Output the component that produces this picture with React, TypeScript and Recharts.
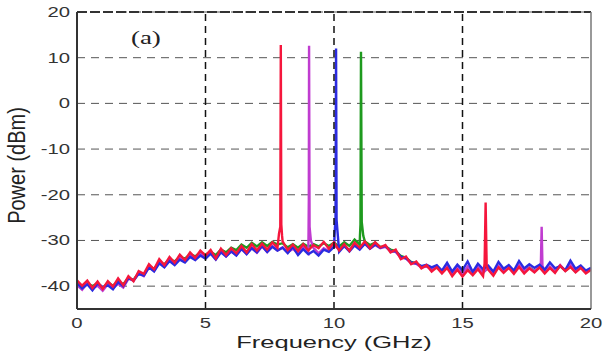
import React from 'react'
import {
  LineChart, Line, XAxis, YAxis, CartesianGrid, ReferenceLine, ReferenceDot, Label
} from 'recharts'

// frequency grid of the traces, 0..20 GHz every 0.2 GHz
const freqs = Array.from({ length: 101 }, (_, i) => Math.round(i * 2) / 10)

const xTicks = [0, 5, 10, 15, 20]
const yTicks = [-40, -30, -20, -10, 0, 10, 20]
const vGrid = [5, 10, 15]

// noise floor of each trace (dBm)
const redFloor = [
  -38.7, -39.9, -38.8, -40.4, -39.0, -40.6, -38.9, -40.1, -38.3, -39.8,
  -37.8, -38.9, -36.7, -37.3, -35.2, -36.3, -34.1, -35.4, -33.6, -34.9,
  -33.1, -34.3, -32.6, -33.8, -32.2, -33.3, -32.1, -33.9, -31.8, -33.2,
  -31.7, -32.8, -31.2, -32.6, -30.8, -32.2, -30.7, -32.0, -30.4, -31.6,
  -30.2, -32.1, -30.9, -32.3, -30.8, -32.2, -31.0, -31.7, -30.3, -31.8,
  -30.4, -32.2, -30.8, -32.3, -30.5, -31.6, -30.2, -31.7, -30.4, -31.5,
  -31.0, -32.6, -32.0, -34.1, -33.5, -35.2, -34.6, -36.1, -35.4, -36.8,
  -35.9, -37.2, -36.0, -37.8, -36.4, -37.9, -36.5, -37.6, -36.3, -37.8,
  -36.4, -37.7, -35.9, -37.1, -36.0, -37.3, -35.8, -37.2, -36.1, -37.0,
  -35.9, -37.2, -36.0, -37.1, -35.5, -36.7, -35.8, -37.0, -36.0, -37.2,
  -36.4,
]
const blueFloor = [
  -39.3, -40.5, -39.6, -40.9, -39.4, -40.2, -39.8, -40.7, -39.1, -40.0,
  -38.2, -38.8, -37.3, -37.7, -35.9, -36.8, -35.0, -35.9, -34.5, -35.4,
  -34.2, -34.8, -33.6, -34.3, -33.3, -34.0, -32.9, -34.2, -32.6, -33.5,
  -32.4, -33.3, -31.8, -33.0, -31.7, -32.6, -31.2, -32.5, -31.4, -32.2,
  -31.6, -32.8, -31.4, -33.2, -31.9, -33.0, -32.3, -33.3, -32.0, -32.5,
  -31.4, -32.5, -31.2, -32.4, -31.1, -32.0, -30.7, -31.8, -30.9, -31.6,
  -31.2, -32.4, -32.3, -33.6, -33.9, -34.8, -35.0, -35.6, -35.3, -35.9,
  -35.4, -36.6, -34.9, -36.8, -35.3, -36.5, -34.6, -36.9, -35.1, -36.3,
  -35.5, -36.8, -34.7, -36.2, -35.4, -36.6, -34.5, -36.1, -35.2, -36.0,
  -35.3, -36.4, -34.8, -36.1, -35.6, -36.5, -34.4, -36.2, -35.5, -36.6,
  -36.0,
]
const magentaFloor = [
  -39.8, -40.8, -39.3, -40.5, -39.9, -41.0, -39.6, -40.4, -39.5, -40.3,
  -38.4, -38.7, -37.2, -37.8, -35.9, -36.6, -34.8, -35.7, -34.3, -35.0,
  -33.8, -34.6, -33.1, -34.2, -32.9, -33.6, -32.6, -34.1, -32.3, -33.5,
  -32.4, -33.2, -31.9, -32.9, -31.6, -32.7, -31.3, -32.5, -31.2, -32.2,
  -31.5, -32.6, -31.8, -32.9, -31.3, -32.7, -31.6, -32.8, -31.7, -32.3,
  -31.0, -32.0, -31.3, -32.1, -30.8, -31.9, -30.7, -31.8, -31.0, -31.7,
  -31.4, -32.3, -32.5, -33.8, -33.9, -35.0, -35.1, -35.9, -35.7, -36.3,
  -35.8, -36.9, -35.6, -37.2, -35.9, -37.3, -35.7, -37.0, -35.8, -37.1,
  -35.9, -37.0, -35.6, -36.8, -35.7, -36.9, -35.4, -36.7, -35.9, -36.8,
  -35.6, -36.9, -35.7, -36.8, -35.4, -36.6, -35.3, -36.8, -35.7, -36.9,
  -36.2,
]
const greenFloor = [
  -39.2, -40.2, -39.4, -40.0, -39.3, -40.4, -39.2, -39.9, -38.9, -39.6,
  -38.2, -38.6, -37.1, -37.6, -35.6, -36.2, -34.7, -35.2, -34.0, -34.6,
  -33.6, -34.0, -33.0, -33.5, -32.6, -33.1, -32.5, -33.2, -32.0, -32.6,
  -31.6, -32.1, -30.9, -31.6, -30.5, -31.3, -30.4, -31.2, -30.3, -30.9,
  -30.6, -31.5, -30.8, -31.6, -30.7, -31.4, -30.8, -31.3, -30.6, -31.2,
  -30.5, -31.3, -30.4, -31.2, -29.8, -30.9, -30.2, -31.0, -30.5, -31.4,
  -31.3, -32.0, -32.3, -33.4, -33.8, -34.7, -35.0, -35.7, -35.6, -36.2,
  -35.9, -36.8, -36.0, -37.1, -36.2, -37.0, -36.1, -36.9, -36.0, -37.0,
  -36.0, -36.9, -35.9, -36.7, -35.8, -36.8, -35.7, -36.6, -35.9, -36.7,
  -35.8, -36.7, -35.9, -36.8, -35.6, -36.6, -35.7, -36.8, -35.9, -36.7,
  -36.3,
]

// tone peaks [GHz, dBm]
const redPeaks = [
  [7.86, -28.5], [7.91, -27], [7.93, 12.8], [7.95, -26.5], [7.98, -29],
  [15.86, -35], [15.9, -21.7], [15.94, -35.5],
]
const magentaPeaks = [
  [9.01, -28], [9.02, -21], [9.03, 12.6], [9.05, -27], [9.1, -30],
  [18.05, -35], [18.08, -27], [18.11, -35.5],
]
const bluePeaks = [
  [10.03, -28], [10.06, -25], [10.08, 12], [10.1, -25.5], [10.15, -29],
]
const greenPeaks = [
  [11.01, -29], [11.03, -26.5], [11.05, 11.3], [11.08, -26], [11.14, -29],
]

const build = (floor: number[], peaks: number[][]) =>
  [
    ...floor.map((p, i) => ({ f: freqs[i], p })),
    ...peaks.map(([f, p]) => ({ f, p })),
  ].sort((a, b) => a.f - b.f)

const series = [
  { name: 'green', color: '#1e9a1e', data: build(greenFloor, greenPeaks) },
  { name: 'magenta', color: '#c03cd0', data: build(magentaFloor, magentaPeaks) },
  { name: 'blue', color: '#2b2be0', data: build(blueFloor, bluePeaks) },
  { name: 'red', color: '#f5163c', data: build(redFloor, redPeaks) },
]

const FONT = '"Liberation Sans", Arial, sans-serif'

const XTick = (props: any) => {
  const { x, y, payload } = props
  return (
    <text transform={`translate(${x},${y + 19}) scale(1.45,1)`} textAnchor="middle"
      fontSize={14} fontFamily={FONT} fill="#333">{payload.value}</text>
  )
}

const YTick = (props: any) => {
  const { x, y, payload } = props
  return (
    <text transform={`translate(${x},${y + 5}) scale(1.45,1)`} textAnchor="end"
      fontSize={14} fontFamily={FONT} fill="#333">{payload.value}</text>
  )
}

const App: React.FC = () => {
  return (
    <div style={{ position: 'absolute', left: 0, top: 0, width: 608, height: 352 }}>
      <LineChart width={608} height={352} margin={{ top: 12, right: 17, bottom: 0, left: 0 }}>
        <CartesianGrid vertical={false} stroke="#555" strokeDasharray="8 6" />
        <XAxis type="number" dataKey="f" domain={[0, 20]} ticks={xTicks} height={43}
          allowDataOverflow tickSize={0} tickMargin={0} tick={<XTick />}
          axisLine={{ stroke: '#333', strokeWidth: 2 }}>
          <Label content={(p: any) => {
            const vb = p.viewBox
            return (
              <text transform={`translate(${vb.x + vb.width / 2},348) scale(1.5,1)`}
                textAnchor="middle" fontSize={17} fontFamily={FONT} fill="#222">
                Frequency (GHz)
              </text>
            )
          }} />
        </XAxis>
        <YAxis type="number" domain={[-45, 20]} ticks={yTicks} width={77}
          allowDataOverflow tickSize={0} tickMargin={7} tick={<YTick />}
          axisLine={{ stroke: '#333', strokeWidth: 2 }}>
          <Label content={(p: any) => {
            const vb = p.viewBox
            return (
              <text transform={`translate(25,${vb.y + vb.height / 2 + 5}) scale(1.15,1) rotate(-90)`}
                textAnchor="middle" fontSize={20} fontFamily={FONT} fill="#222">
                Power (dBm)
              </text>
            )
          }} />
        </YAxis>
        {series.map(s => (
          <Line key={s.name} data={s.data} dataKey="p" type="linear" stroke={s.color}
            strokeWidth={2.4} dot={false} activeDot={false} isAnimationActive={false} />
        ))}
        {vGrid.map(v => (
          <ReferenceLine key={v} x={v} stroke="#111" strokeWidth={1.5} strokeDasharray="7 5" />
        ))}
        <ReferenceLine y={20} stroke="#333" strokeWidth={2} strokeDasharray="10 3" />
        <ReferenceLine x={20} stroke="#777" strokeWidth={1.5} />
        <ReferenceDot x={2.68} y={14.3} r={0} fill="none" stroke="none"
          label={(p: any) => (
            <text transform={`translate(${p.viewBox.x},${p.viewBox.y + 6}) scale(1.5,1)`}
              textAnchor="middle" fontSize={18} fontFamily='"Liberation Serif", serif' fill="#222">
              (a)
            </text>
          )} />
      </LineChart>
    </div>
  )
}

export default App
